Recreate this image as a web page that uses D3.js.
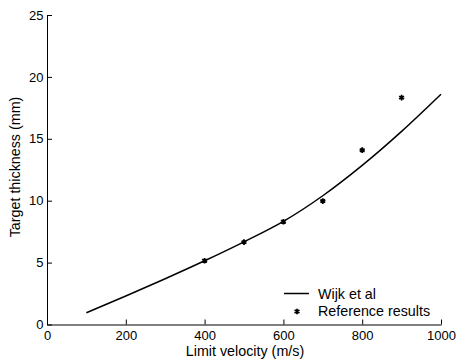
<!DOCTYPE html>
<html>
<head>
<meta charset="utf-8">
<script src="https://cdn.jsdelivr.net/npm/d3@7"></script>
<style>
  html, body { margin: 0; padding: 0; background: #fff; }
  svg { display: block; font-family: "Liberation Sans", Arial, sans-serif; }
</style>
</head>
<body>
<svg id="chart" width="459" height="363"></svg>
<script>
// Model curve (Wijk et al): limit velocity vs target thickness
const modelVelocity = [100, 200, 300, 400, 500, 600, 700, 800, 900, 1000];
const modelThickness = [0.95, 2.3, 3.7, 5.15, 6.68, 8.33, 10.4, 12.85, 15.6, 18.6];

// Reference results
const refVelocity = [400, 500, 600, 700, 800, 900];
const refThickness = [5.15, 6.65, 8.3, 9.97, 14.08, 18.33];

const xTicks = [0, 200, 400, 600, 800, 1000];
const yTicks = [0, 5, 10, 15, 20, 25];

const tickFont = "13px";
const titleFont = "14.3px";

const svg = d3.select("#chart");

const x = d3.scaleLinear().domain([0, 1000]).range([47, 441]);
const y = d3.scaleLinear().domain([0, 25]).range([324.5, 15]);

const xAxis = d3.axisBottom(x).tickValues(xTicks).tickFormat(d3.format("d"))
  .tickSize(-5).tickSizeOuter(0).tickPadding(6.5);
const yAxis = d3.axisLeft(y).tickValues(yTicks).tickFormat(d3.format("d"))
  .tickSize(-5).tickSizeOuter(0).tickPadding(3.5);

const gx = svg.append("g").attr("transform", `translate(0,${y(0)})`).call(xAxis);
const gy = svg.append("g").attr("transform", `translate(${x(0)},0)`).call(yAxis);

[gx, gy].forEach(g => {
  g.selectAll("path, line").attr("stroke", "#000").attr("stroke-width", 1);
  g.selectAll("text").attr("fill", "#000").style("font-size", tickFont)
    .style("font-family", '"Liberation Sans", Arial, sans-serif');
});

// Model line
const line = d3.line()
  .x((d, i) => x(modelVelocity[i]))
  .y(d => y(d))
  .curve(d3.curveMonotoneX);

svg.append("path")
  .datum(modelThickness)
  .attr("d", line)
  .attr("fill", "none")
  .attr("stroke", "#000")
  .attr("stroke-width", 1.5);

// Reference markers
const marker = d3.symbol().type(d3.symbolAsterisk).size(22);
svg.selectAll(".ref")
  .data(refThickness)
  .join("path")
  .attr("class", "ref")
  .attr("transform", (d, i) => `translate(${x(refVelocity[i])},${y(d)})`)
  .attr("d", marker)
  .attr("fill", "none")
  .attr("stroke", "#000")
  .attr("stroke-width", 1.8);

// Axis titles
svg.append("text")
  .attr("x", 245).attr("y", 356)
  .attr("text-anchor", "middle")
  .style("font-size", titleFont)
  .text("Limit velocity (m/s)");

svg.append("text")
  .attr("transform", `translate(20,167) rotate(-90)`)
  .attr("text-anchor", "middle")
  .style("font-size", titleFont)
  .text("Target thickness (mm)");

// Legend
const legend = svg.append("g");
legend.append("line")
  .attr("x1", 284).attr("x2", 309).attr("y1", 293.5).attr("y2", 293.5)
  .attr("stroke", "#000").attr("stroke-width", 1.5);
legend.append("text")
  .attr("x", 318).attr("y", 298.5)
  .style("font-size", titleFont)
  .text("Wijk et al");
legend.append("path")
  .attr("transform", "translate(297,311.5)")
  .attr("d", marker)
  .attr("fill", "none").attr("stroke", "#000").attr("stroke-width", 1.8);
legend.append("text")
  .attr("x", 318).attr("y", 316)
  .style("font-size", titleFont)
  .text("Reference results");
</script>
</body>
</html>
